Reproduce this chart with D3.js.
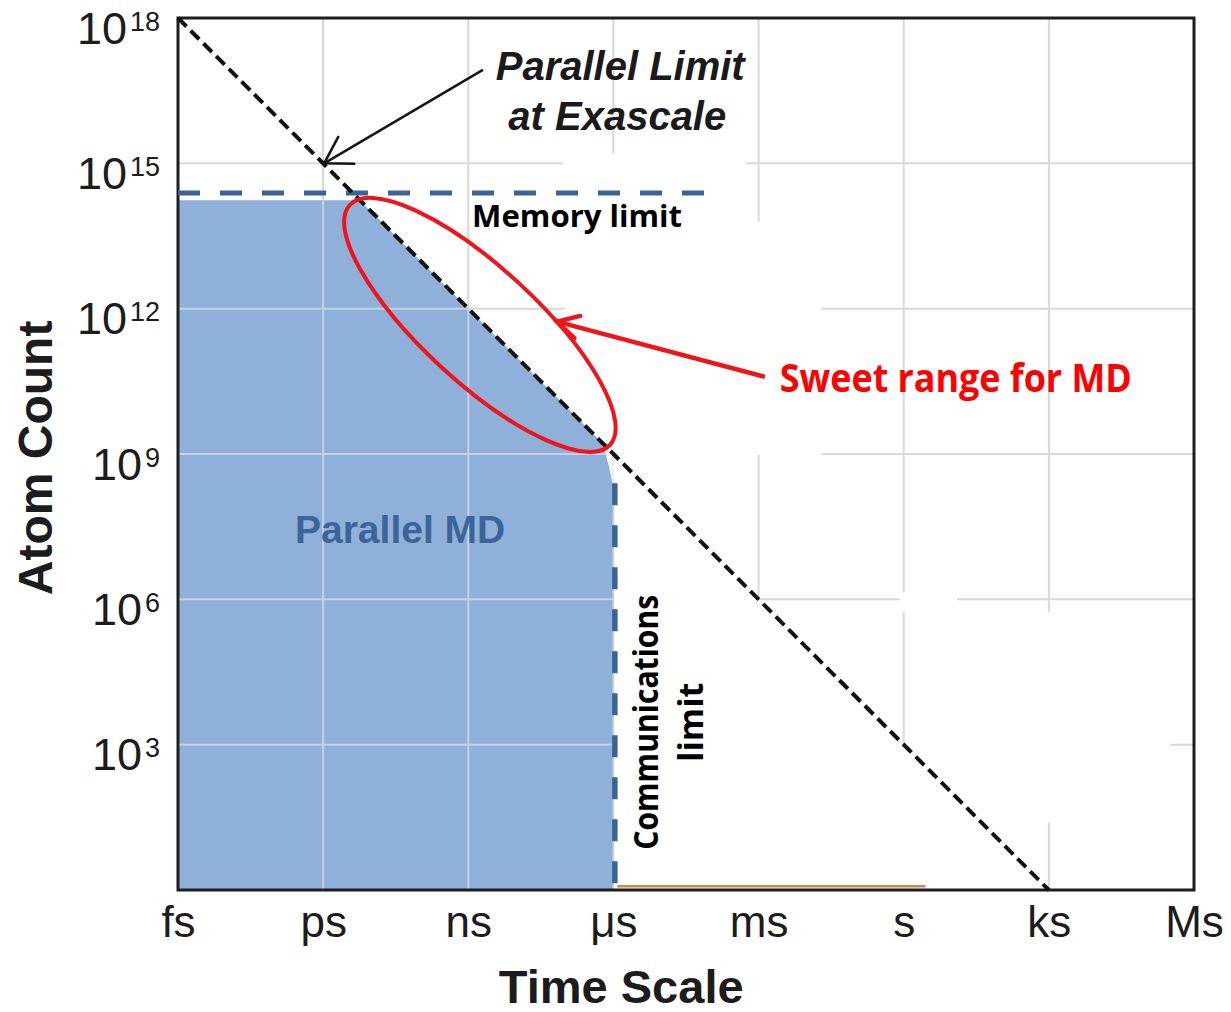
<!DOCTYPE html>
<html><head><meta charset="utf-8">
<script src="https://cdn.jsdelivr.net/npm/d3@7"></script>
<style>body{margin:0;background:#fff}svg{display:block}</style>
</head><body>
<svg id="chart" width="1231" height="1012"></svg>
<script>
// ---------- data ----------
const timeTicks = [1e-15, 1e-12, 1e-9, 1e-6, 1e-3, 1, 1e3, 1e6];
const timeLabels = ["fs", "ps", "ns", "μs", "ms", "s", "ks", "Ms"];
const atomTicks = [1e3, 1e6, 1e9, 1e12, 1e15, 1e18];
const atomExponents = ["3", "6", "9", "12", "15", "18"];

// Parallel limit at exascale (diagonal)
const parallelLimit = [[1e-15, 1e18], [1e3, 1]];
// Memory limit (horizontal dashed)
const memoryLimit = [[1e-15, 2.45e14], [7.8e-5, 2.45e14]];
// Communications limit (vertical dashed)
const commLimit = [[1.07e-6, 2.5e8], [1.07e-6, 1]];
// Parallel MD feasible region
const parallelMD = [
  [1e-15, 1], [1e-15, 1.74e14], [5.75e-12, 1.74e14], [5.0e-7, 2.0e9], [6.6e-7, 1.12e9],
  [8.1e-7, 5.6e8], [9.3e-7, 2.8e8], [1.0e-6, 1.26e8], [1.0e-6, 1]
];
// Sweet range ellipse: major axis end points + minor semi-axis (decades)
const sweetAxisEnds = [[3.55e-12, 1.38e14], [8.5e-7, 1.55e9]];
const sweetMinorDecades = [1.18];
// Arrows [from, to]
const exaArrow = [[2.0e-9, 8.5e16], [1.05e-12, 1.0e15]];
const sweetArrow = [[1.35e-3, 3.9e10], [6.8e-8, 5.4e11]];
// erased (white) regions of background grid: [t0, t1, n0, n1]
const eraseRects = [
  [9.1e-8, 5.5e-4, 6.2e13, 1.6e15],
  [1.0e-7, 2.0e-2, 9.5e8, 6.2e13],
  [0.83, 12.6, 5.5e5, 1.4e6],
  [1.07, 3.2e5, 25, 5.5e5]
];
const eraseTriangle = [[1e-6, 1e9], [1e3, 1], [1e-6, 1]];
const baseArtifact = [[1.2e-6, 1.2], [2.8, 1.2]];

// Annotations (anchor in data coordinates)
const annoExa = [{text: "Parallel Limit", t: 1.38e-6, n: 5.3e16}, {text: "at Exascale", t: 1.2e-6, n: 4.9e15}];
const annoMemory = {text: "Memory limit", t: 1.2e-9, n: 4.9e13};
const annoSweet = {text: "Sweet range for MD", t: 2.75e-3, n: 1.9e10};
const annoMD = {text: "Parallel MD", t: 3.9e-11, n: 1.45e7};
const annoComm = [{text: "Communications", t: 8.3e-6, n: 2.9e3}, {text: "limit", t: 7.1e-5, n: 2.9e3}];
const titleTime = {text: "Time Scale", t: 1.45e-6};
const titleAtom = {text: "Atom Count", n: 8.3e8};

// ---------- scales ----------
const svg = d3.select("#chart");
const x = d3.scaleLog().domain([1e-15, 1e6]).range([178, 1194]);
const y = d3.scaleLog().domain([1, 1e18]).range([890, 18]);
const X = d => x(d[0]), Y = d => y(d[1]);
const line = d3.line().x(X).y(Y);

const defs = svg.append("defs");
defs.append("clipPath").attr("id", "mdClip").append("path").attr("d", line(parallelMD) + "Z");

// ---------- grid ----------
function drawGrid(g, color) {
  g.selectAll(".vg").data(timeTicks).join("line")
    .attr("x1", d => x(d)).attr("x2", d => x(d)).attr("y1", y(1e18)).attr("y2", y(1))
    .attr("stroke", color).attr("stroke-width", 2);
  g.selectAll(".hg").data(atomTicks).join("line").attr("class", "h")
    .attr("x1", x(1e-15)).attr("x2", x(1e6)).attr("y1", d => y(d)).attr("y2", d => y(d))
    .attr("stroke", color).attr("stroke-width", 2);
}
drawGrid(svg.append("g"), "#d8d8d8");

// erased areas
svg.append("g").selectAll("rect").data(eraseRects).join("rect")
  .attr("x", d => x(d[0])).attr("width", d => x(d[1]) - x(d[0]))
  .attr("y", d => y(d[3])).attr("height", d => y(d[2]) - y(d[3]))
  .attr("fill", "#fff");
svg.append("path").attr("d", line(eraseTriangle) + "Z").attr("fill", "#fff");

// ---------- Parallel MD region ----------
svg.append("path").attr("d", line(parallelMD) + "Z").attr("fill", "#8fb0d8");
drawGrid(svg.append("g").attr("clip-path", "url(#mdClip)"), "#c3d2e6");

svg.append("path").attr("d", line(baseArtifact)).attr("stroke", "#c98a4e").attr("stroke-width", 2.5).attr("fill", "none");

// plot border
svg.append("rect").attr("x", x(1e-15)).attr("y", y(1e18))
  .attr("width", x(1e6) - x(1e-15)).attr("height", y(1) - y(1e18))
  .attr("fill", "none").attr("stroke", "#1e1e1e").attr("stroke-width", 3);

// ---------- limits ----------
svg.append("path").attr("d", line(memoryLimit)).attr("stroke", "#3b6394")
  .attr("stroke-width", 5).attr("stroke-dasharray", "22,20").attr("fill", "none");
svg.append("path").attr("d", line(commLimit)).attr("stroke", "#3b6394")
  .attr("stroke-width", 5.5).attr("stroke-dasharray", "22,20").attr("fill", "none");
svg.append("path").attr("d", line(parallelLimit)).attr("stroke", "#111")
  .attr("stroke-width", 4).attr("stroke-dasharray", "12,6").attr("fill", "none");

// ---------- sweet range ellipse ----------
{
  const p0 = [X(sweetAxisEnds[0]), Y(sweetAxisEnds[0])];
  const p1 = [X(sweetAxisEnds[1]), Y(sweetAxisEnds[1])];
  const cx = (p0[0] + p1[0]) / 2, cy = (p0[1] + p1[1]) / 2;
  const rx = Math.hypot(p1[0] - p0[0], p1[1] - p0[1]) / 2;
  const ry = sweetMinorDecades[0] * (y(1) - y(10));
  const ang = Math.atan2(p1[1] - p0[1], p1[0] - p0[0]) * 180 / Math.PI;
  svg.append("ellipse").attr("cx", 0).attr("cy", 0).attr("rx", rx).attr("ry", ry)
    .attr("transform", `translate(${cx},${cy}) rotate(${ang})`)
    .attr("fill", "none").attr("stroke", "#f0141a").attr("stroke-width", 4);
}

// ---------- arrows ----------
function arrow(pts, color, width, head, spread) {
  const a = [X(pts[0]), Y(pts[0])], b = [X(pts[1]), Y(pts[1])];
  const ang = Math.atan2(a[1] - b[1], a[0] - b[0]);
  const h1 = [b[0] + head * Math.cos(ang + spread), b[1] + head * Math.sin(ang + spread)];
  const h2 = [b[0] + head * Math.cos(ang - spread), b[1] + head * Math.sin(ang - spread)];
  svg.append("path").attr("d", `M${a[0]},${a[1]}L${b[0]},${b[1]}`)
    .attr("stroke", color).attr("stroke-width", width).attr("fill", "none");
  svg.append("path").attr("d", `M${h1[0]},${h1[1]}L${b[0]},${b[1]}L${h2[0]},${h2[1]}`)
    .attr("stroke", color).attr("stroke-width", width).attr("fill", "none")
    .attr("stroke-linejoin", "miter").attr("stroke-linecap", "round");
}
arrow(exaArrow, "#151515", 2.5, 30, 0.55);
arrow(sweetArrow, "#f0141a", 4.5, 24, 0.5);

// ---------- axes ----------
const xAxis = svg.append("g").attr("transform", `translate(0,${y(1)})`)
  .call(d3.axisBottom(x).tickValues(timeTicks).tickFormat((d, i) => timeLabels[i]).tickSize(0));
xAxis.select(".domain").remove();
xAxis.selectAll("text").attr("dy", null).attr("y", 47)
  .attr("font-family", "'Liberation Sans', Arial, sans-serif").attr("font-size", 44).attr("fill", "#1c1c1c");

const yAxis = svg.append("g").attr("transform", `translate(${x(1e-15)},0)`)
  .call(d3.axisLeft(y).tickValues(atomTicks).tickFormat("").tickSize(0));
yAxis.select(".domain").remove();
yAxis.selectAll("text").each(function (d, i) {
  const t = d3.select(this).attr("dy", null).attr("x", -18).attr("y", 25)
    .attr("text-anchor", "end").attr("font-family", "'Liberation Sans', Arial, sans-serif").attr("fill", "#1c1c1c");
  t.text(null);
  t.append("tspan").attr("font-size", 45).text("10");
  t.append("tspan").attr("font-size", 27).attr("dy", -13).attr("dx", 3).text(atomExponents[i]);
});

// axis titles
svg.append("text").attr("x", x(titleTime.t)).attr("y", 1003).attr("text-anchor", "middle")
  .attr("font-family", "'Liberation Sans', Arial, sans-serif").attr("font-weight", "bold")
  .attr("font-size", 47).attr("fill", "#1c1c1c").text(titleTime.text);
svg.append("text").attr("transform", `translate(52,${y(titleAtom.n)}) rotate(-90)`)
  .attr("text-anchor", "middle").attr("font-family", "'Liberation Sans', Arial, sans-serif")
  .attr("font-weight", "bold").attr("font-size", 48).attr("fill", "#1c1c1c").text(titleAtom.text);

// ---------- annotations ----------
svg.append("g").selectAll("text").data(annoExa).join("text")
  .attr("x", d => x(d.t)).attr("y", d => y(d.n)).attr("text-anchor", "middle")
  .attr("font-family", "'Liberation Sans', Arial, sans-serif").attr("font-weight", "bold")
  .attr("font-style", "italic").attr("font-size", 40).attr("fill", "#1a1a1a").text(d => d.text);

svg.append("text").attr("x", x(annoMemory.t)).attr("y", y(annoMemory.n))
  .attr("font-family", "'Open Sans', 'Noto Sans', sans-serif").attr("font-weight", "bold")
  .attr("font-size", 31).attr("textLength", 210).attr("lengthAdjust", "spacingAndGlyphs")
  .attr("fill", "#000").text(annoMemory.text);

svg.append("text").attr("x", x(annoSweet.t)).attr("y", y(annoSweet.n))
  .attr("font-family", "'Open Sans', 'Noto Sans', sans-serif").attr("font-weight", "bold")
  .attr("font-size", 40).attr("textLength", 352).attr("lengthAdjust", "spacingAndGlyphs")
  .attr("fill", "#ff0000").text(annoSweet.text);

svg.append("text").attr("x", x(annoMD.t)).attr("y", y(annoMD.n)).attr("text-anchor", "middle")
  .attr("font-family", "'Liberation Sans', Arial, sans-serif").attr("font-weight", "bold")
  .attr("font-size", 39).attr("fill", "#3b6598").text(annoMD.text);

svg.append("g").selectAll("text").data(annoComm).join("text")
  .attr("transform", d => `translate(${x(d.t)},${y(d.n)}) rotate(-90)`)
  .attr("text-anchor", "middle")
  .attr("font-family", "'Open Sans', 'Noto Sans', sans-serif").attr("font-weight", "bold")
  .attr("font-size", 34).attr("fill", "#000")
  .each(function (d, i) { if (i === 0) d3.select(this).attr("textLength", 255).attr("lengthAdjust", "spacingAndGlyphs"); })
  .text(d => d.text);
</script>
</body></html>
